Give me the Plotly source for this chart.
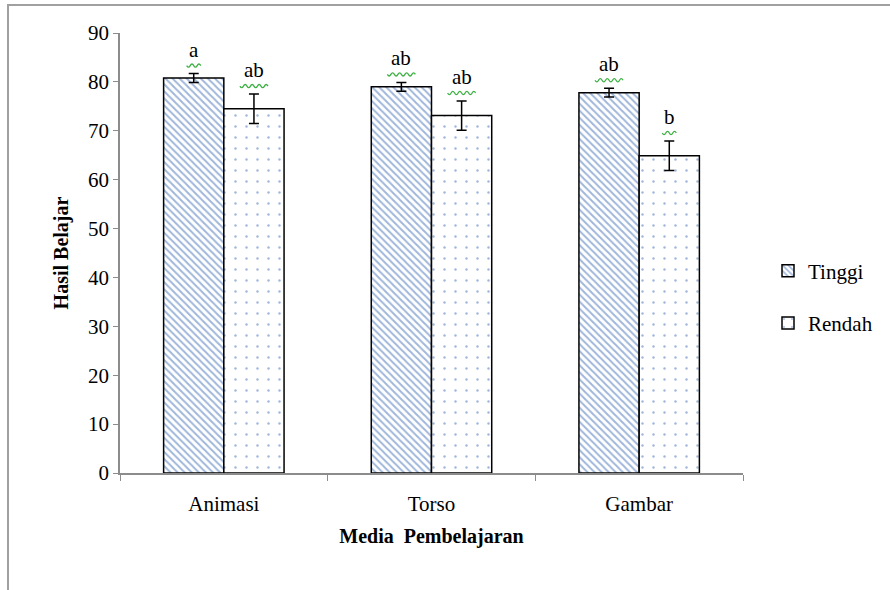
import plotly.graph_objects as go

categories = ["Animasi", "Torso", "Gambar"]
tinggi = [80.8, 79.0, 77.8]
tinggi_err = [0.9, 0.9, 0.9]
rendah = [74.5, 73.1, 64.9]
rendah_err = [3.0, 3.0, 3.0]
tinggi_letters = ["a", "ab", "ab"]
rendah_letters = ["ab", "ab", "b"]
series_names = ["Tinggi", "Rendah"]
y_ticks = [0, 10, 20, 30, 40, 50, 60, 70, 80, 90]

FONT = "Liberation Serif, Times New Roman, serif"
BLUE = "#3f6db5"
BARGAP = 0.42

# plot area in pixels
L, R, T, B = 120, 743, 33, 473
W, H = 890, 590

fig = go.Figure()
fig.add_trace(go.Bar(
    name=series_names[0], x=categories, y=tinggi, legendgroup="g1",
    marker=dict(color="white", line=dict(color="black", width=1.5),
                pattern=dict(shape="\\", fgcolor=BLUE, bgcolor="white", size=5, solidity=0.4)),
    error_y=dict(type="data", array=tinggi_err, color="black", thickness=1.5, width=5),
))
fig.add_trace(go.Bar(
    name=series_names[1], x=categories, y=rendah, legendgroup="g2",
    marker=dict(color="white", line=dict(color="black", width=1.5),
                pattern=dict(shape=".", fgcolor=BLUE, bgcolor="white", size=11, solidity=0.04)),
    error_y=dict(type="data", array=rendah_err, color="black", thickness=1.5, width=5),
))


def wave_path(n, step=3.5, amp=1.6, base=8):
    total = n * 2 * step
    x = -total / 2
    parts = [f"M{x:.1f},{base:.1f}"]
    for k in range(n * 2):
        sign = 1 if k % 2 == 0 else -1
        parts.append(f"Q{x + step / 2:.1f},{base - sign * amp * 2:.1f} {x + step:.1f},{base:.1f}")
        x += step
    return " ".join(parts)


bw = (1 - BARGAP) / 2
for i, cat in enumerate(categories):
    for off, val, err, lab in [(-bw / 2, tinggi[i], tinggi_err[i], tinggi_letters[i]),
                               (bw / 2, rendah[i], rendah_err[i], rendah_letters[i])]:
        fig.add_annotation(x=i + off, y=val + err, xref="x", yref="y", text=lab,
                           showarrow=False, yanchor="bottom", yshift=10,
                           font=dict(family=FONT, size=21, color="black"))
        fig.add_shape(type="path", xref="x", yref="y", xsizemode="pixel", ysizemode="pixel",
                      xanchor=i + off, yanchor=val + err,
                      path=wave_path(2 if len(lab) == 1 else 4),
                      line=dict(color="#3cb043", width=1.3))

# outer frame
fig.add_shape(type="rect", xref="paper", yref="paper",
              x0=(8 - L) / (R - L), x1=(W + 10 - L) / (R - L),
              y0=(B - (H + 10)) / (B - T), y1=(B - 5) / (B - T),
              line=dict(color="#a0a0a0", width=2), layer="below")

fig.update_layout(
    width=W, height=H,
    margin=dict(l=L, r=W - R, t=T, b=H - B),
    paper_bgcolor="white", plot_bgcolor="white",
    barmode="group", bargap=BARGAP, bargroupgap=0,
    font=dict(family=FONT, size=19, color="black"),
    showlegend=True,
    legend=dict(x=(768 - L) / (R - L), y=(B - 297) / (B - T), xanchor="left", yanchor="middle",
                traceorder="grouped", tracegroupgap=22,
                font=dict(family=FONT, size=21, color="black"), itemwidth=30),
    xaxis=dict(type="category", showline=True, linecolor="#8c8c8c", linewidth=1.5,
               ticks="outside", tickson="boundaries", ticklen=6, tickcolor="#8c8c8c",
               tickfont=dict(family=FONT, size=21), ticklabelstandoff=11,
               title=dict(text="<b>Media  Pembelajaran</b>", font=dict(family=FONT, size=20), standoff=14),
               showgrid=False),
    yaxis=dict(range=[0, 90], tickvals=y_ticks, showline=True, linecolor="#8c8c8c", linewidth=1.5,
               ticks="outside", ticklen=5, tickcolor="#8c8c8c",
               tickfont=dict(family=FONT, size=21), showgrid=False, zeroline=False,
               title=dict(text="<b>Hasil Belajar</b>", font=dict(family=FONT, size=20), standoff=14)),
)

fig.write_html("out.html")
